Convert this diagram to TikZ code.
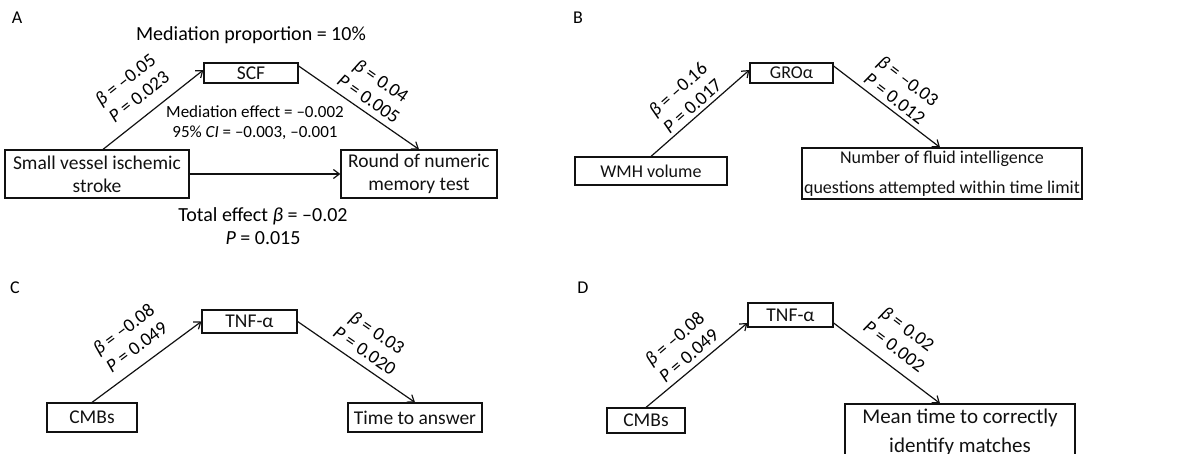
\documentclass[tikz,border=0pt]{standalone}
\usepackage{fontspec}
\setmainfont{Carlito}
\usepackage{tikz}
\usetikzlibrary{arrows.meta, calc}
\definecolor{ink}{HTML}{111111}

\begin{document}
\begin{tikzpicture}[x=1pt, y=-1pt,
  box/.style={draw, ink, line width=1.2pt, inner sep=0pt, align=center,
    font=\fontsize{19.5}{23}\selectfont},
  link/.style={-{Straight Barb[length=6pt, width=9pt]}, line width=1.2pt, ink},
  coef/.style={inner sep=0pt, align=center, font=\fontsize{19}{22}\selectfont},
  note/.style={inner sep=0pt, align=center, font=\fontsize{20}{23}\selectfont},
  tag/.style={inner sep=0pt, font=\fontsize{18}{20}\selectfont}]
  \useasboundingbox (0,0) rectangle (1186,453);

  % Panel A
  \node[tag] (tagA) at (17,18) {A};
  \node[note] (prop) at (251,35) {Mediation proportion = 10\%};
  \node[box, minimum width=184pt, minimum height=48pt] (svis) at (97,174) {Small vessel ischemic\\stroke};
  \node[box, minimum width=94pt, minimum height=20pt] (scf) at (251,73) {SCF};
  \node[box, minimum width=156pt, minimum height=48pt] (numem) at (419,174) {Round of numeric\\memory test};
  \draw[link] ([xshift=6pt]svis.north) -- ([yshift=3pt]scf.west);
  \draw[link] ([yshift=7pt]scf.east) -- (numem.north);
  \draw[link] (svis.east) -- (numem.west);
  \node[coef, rotate=38.4] (aA) at (132,88) {\textit{β} = –0.05\\\textit{P} = 0.023};
  \node[coef, rotate=-35] (bA) at (375,89.5) {\textit{β} = 0.04\\\textit{P} = 0.005};
  \node[inner sep=0pt, align=center, font=\fontsize{17}{20}\selectfont] (medA) at (255,123)
    {Mediation effect = –0.002\\95\% \textit{CI} = –0.003, –0.001};
  \node[note] (totA) at (263,226) {Total effect \textit{β} = –0.02\\\textit{P} = 0.015};

  % Panel B
  \node[tag] (tagB) at (578,18) {B};
  \node[box, font=\fontsize{18}{23}\selectfont, minimum width=152pt, minimum height=28pt] (wmh) at (651,171) {WMH volume};
  \node[box, font=\fontsize{18}{23}\selectfont, minimum width=83pt, minimum height=20pt] (gro) at (791.5,73) {GROα};
  \node[box, font=\fontsize{18}{30}\selectfont, minimum width=280pt, minimum height=51pt] (fluid) at (942,173.5)
    {Number of fluid intelligence\\questions attempted within time limit};
  \draw[link] (wmh.north) -- ([yshift=3pt]gro.west);
  \draw[link] ([yshift=7pt]gro.east) -- ([xshift=-2pt]fluid.north);
  \node[coef, rotate=41.6] (aB) at (685,97.5) {\textit{β} = –0.16\\\textit{P} = 0.017};
  \node[coef, rotate=-37.5] (bB) at (901.5,89.5) {\textit{β} = –0.03\\\textit{P} = 0.012};

  % Panel C
  \node[tag] (tagC) at (15,288) {C};
  \node[box, minimum width=90pt, minimum height=29pt] (cmbC) at (92,417.5) {CMBs};
  \node[box, minimum width=95pt, minimum height=23pt] (tnfC) at (249.5,321.5) {TNF-α};
  \node[box, minimum width=134pt, minimum height=29pt] (ans) at (415,417.5) {Time to answer};
  \draw[link] (cmbC.north) -- (tnfC.west);
  \draw[link] (tnfC.east) -- (ans.north);
  \node[coef, rotate=36.6] (aC) at (130,338) {\textit{β} = –0.08\\\textit{P} = 0.049};
  \node[coef, rotate=-34.5] (bC) at (371,341.5) {\textit{β} = 0.03\\\textit{P} = 0.020};

  % Panel D
  \node[tag] (tagD) at (583,288) {D};
  \node[box, minimum width=78pt, minimum height=25pt] (cmbD) at (646,420.5) {CMBs};
  \node[box, minimum width=85pt, minimum height=24pt] (tnfD) at (790.5,315) {TNF-α};
  \node[box, font=\fontsize{21}{29}\selectfont, minimum width=230pt, minimum height=56pt] (match) at (960,432)
    {Mean time to correctly\\identify matches};
  \draw[link] (cmbD.north) -- ([yshift=-8pt]tnfD.west);
  \draw[link] ([yshift=-8pt]tnfD.east) -- ([xshift=-20pt]match.north);
  \node[coef, rotate=40.4] (aD) at (681.5,347) {\textit{β} = –0.08\\\textit{P} = 0.049};
  \node[coef, rotate=-37] (bD) at (901,337.5) {\textit{β} = 0.02\\\textit{P} = 0.002};
\end{tikzpicture}
\end{document}
